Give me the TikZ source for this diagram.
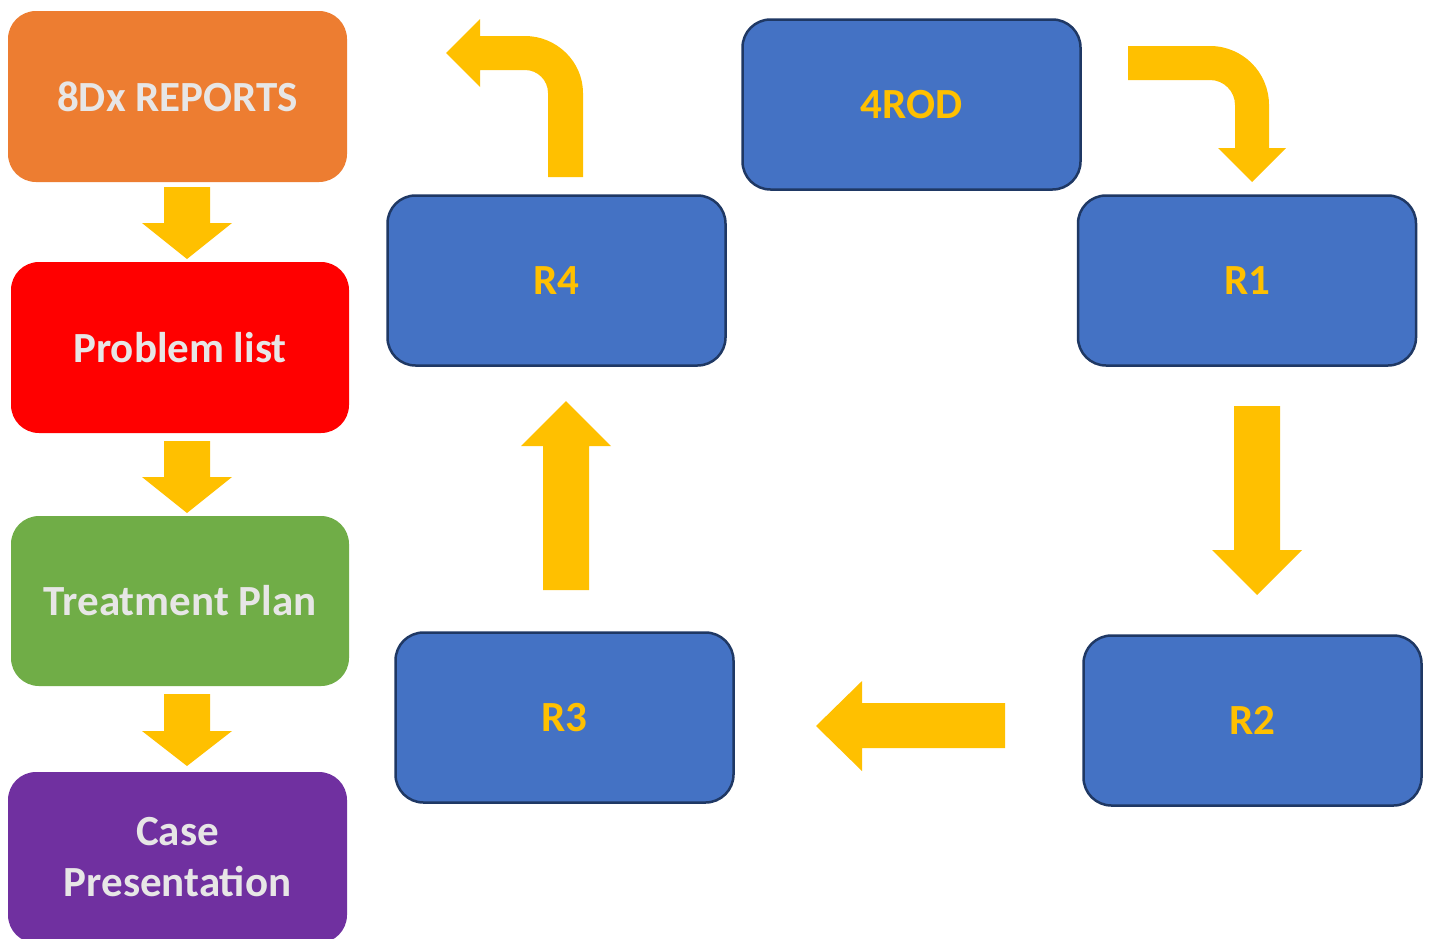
\documentclass[tikz,border=0pt]{standalone}
\usepackage{fontspec}
\setmainfont{Carlito}
\definecolor{orangebox}{HTML}{ED7D31}
\definecolor{redbox}{HTML}{FF0000}
\definecolor{greenbox}{HTML}{70AD47}
\definecolor{purplebox}{HTML}{7030A0}
\definecolor{bluebox}{HTML}{4472C4}
\definecolor{blueedge}{HTML}{1F3864}
\definecolor{gold}{HTML}{FFC000}
\definecolor{lighttext}{HTML}{E7E6E6}
\begin{document}
\begin{tikzpicture}[x=1pt,y=-1pt,
  leftbox/.style={rounded corners=28pt, minimum width=338pt, minimum height=170pt,
    text=lighttext, font=\fontsize{43}{51}\selectfont\bfseries, align=center, inner sep=0pt},
  rbox/.style={rounded corners=28pt, minimum width=338pt, minimum height=170pt,
    fill=bluebox, draw=blueedge, line width=2.5pt,
    text=gold, font=\fontsize{43}{51}\selectfont\bfseries, inner sep=0pt},
  blockarrow/.style={fill=gold, draw=none}]
\useasboundingbox (0,0) rectangle (1431,938);
\fill[white] (0,0) rectangle (1431,938);

% left column
\node[leftbox, fill=orangebox, minimum width=339pt, minimum height=171pt] (rep) at (177.5,96.5) {8Dx REPORTS};
\node[leftbox, fill=redbox, minimum height=171pt] (prob) at (180,347.5) {Problem list};
\node[leftbox, fill=greenbox] (treat) at (180,601) {Treatment Plan};
\node[leftbox, fill=purplebox, minimum width=339pt, minimum height=171pt] (case) at (177.5,857.5) {Case\\Presentation};

% blue boxes
\node[rbox] (rod) at (911.5,104.5) {4ROD};
\node[rbox] (r4) at (556.5,280.5) {R4};
\node[rbox] (r1) at (1247,280.5) {R1};
\node[rbox] (r3) at (564.5,717.5) {R3};
\node[rbox] (r2) at (1252.5,720.5) {R2};

% left down arrows
\fill[blockarrow] (164,187) -- (210,187) -- (210,223) -- (232,223) -- (187,259) -- (142,223) -- (164,223) -- cycle;
\fill[blockarrow] (164,441) -- (210,441) -- (210,477) -- (232,477) -- (187,513) -- (142,477) -- (164,477) -- cycle;
\fill[blockarrow] (164,694) -- (210,694) -- (210,731) -- (232,731) -- (187,766) -- (142,731) -- (164,731) -- cycle;

% R1 -> R2
\fill[blockarrow] (1234,406) -- (1280,406) -- (1280,550) -- (1302,550) -- (1257,595) -- (1212,550) -- (1234,550) -- cycle;
% R2 -> R3
\fill[blockarrow] (1005,703) -- (1005,748) -- (862,748) -- (862,771) -- (816,726) -- (862,681) -- (862,703) -- cycle;
% R3 -> R4
\fill[blockarrow] (543,590) -- (589,590) -- (589,446) -- (611,446) -- (566,401) -- (521,446) -- (543,446) -- cycle;

% R4 bent arrow (up then left)
\fill[blockarrow] (583,177) -- (583,93) .. controls (583,61.5) and (556.5,36) .. (525,36)
  -- (480,36) -- (480,19) -- (446,53) -- (480,87) -- (480,70) -- (525,70)
  .. controls (537.7,70) and (548,80.3) .. (548,93) -- (548,177) -- cycle;

% 4ROD bent arrow (right then down)
\fill[blockarrow] (1128,46) -- (1210,46) .. controls (1242.6,46) and (1269,72.4) .. (1269,105)
  -- (1269,148) -- (1286,148) -- (1252,182) -- (1218,148) -- (1235,148) -- (1235,105)
  .. controls (1235,91.2) and (1223.8,80) .. (1210,80) -- (1128,80) -- cycle;
\end{tikzpicture}
\end{document}
